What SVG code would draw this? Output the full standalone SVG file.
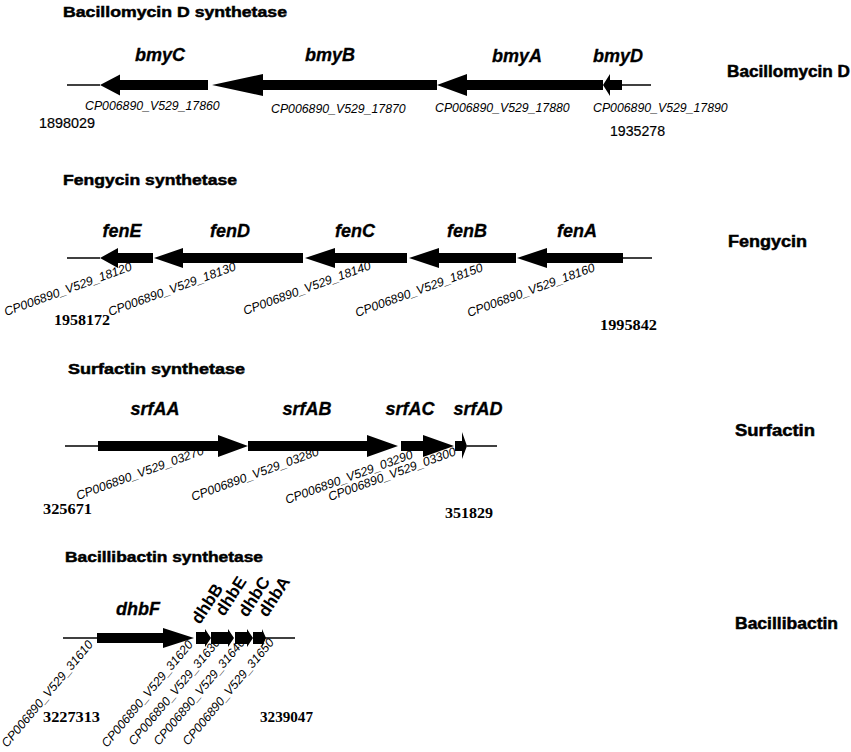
<svg xmlns="http://www.w3.org/2000/svg" width="851" height="752" viewBox="0 0 851 752">
<style>
.title{font-family:"Liberation Sans",Arial,sans-serif;font-weight:bold;font-size:15.5px;fill:#000;stroke:#000;stroke-width:0.5}
.side{font-family:"Liberation Sans",Arial,sans-serif;font-weight:bold;font-size:16px;fill:#000;stroke:#000;stroke-width:0.5}
.gene{font-family:"Liberation Sans",Arial,sans-serif;font-weight:bold;font-style:italic;font-size:18px;fill:#000;text-anchor:middle;stroke:#000;stroke-width:0.3}
.dhb{font-family:"Liberation Sans",Arial,sans-serif;font-weight:bold;font-size:17px;fill:#000}
.locus{font-family:"Liberation Sans",Arial,sans-serif;font-style:italic;font-size:12.3px;fill:#000}
.numS{font-family:"Liberation Sans",Arial,sans-serif;font-size:14px;fill:#000;stroke:#000;stroke-width:0.2}
.numB{font-family:"Liberation Serif","Times New Roman",serif;font-weight:bold;font-size:15px;fill:#000}
.line{stroke:#000;stroke-width:1.5;fill:none}
.arr{fill:#000;stroke:none}
</style>
<rect width="851" height="752" fill="#fff"/>

<g id="bacillomycin">
<text class="title" x="63" y="17" textLength="224" lengthAdjust="spacingAndGlyphs">Bacillomycin D synthetase</text>
<text class="side" x="727" y="77" textLength="123" lengthAdjust="spacingAndGlyphs">Bacillomycin D</text>
<g id="connectors-bmy">
<line class="line" x1="67" y1="85" x2="100" y2="85"/>
<line class="line" x1="622" y1="85" x2="651" y2="85"/>
</g>
<g id="bmyC"><polygon class="arr" points="100,85 120,74.5 120,80 208,80 208,90 120,90 120,95.5"/>
<text class="gene" x="160" y="61">bmyC</text><text class="locus" x="85" y="110">CP006890_V529_17860</text></g>
<g id="bmyB"><polygon class="arr" points="212,85 263,74 263,80 437,80 437,90 263,90 263,96"/>
<text class="gene" x="330" y="61">bmyB</text><text class="locus" x="271" y="113">CP006890_V529_17870</text></g>
<g id="bmyA"><polygon class="arr" points="437,85 467,74 467,80 603,80 603,90 467,90 467,96"/>
<text class="gene" x="517" y="62">bmyA</text><text class="locus" x="435" y="112">CP006890_V529_17880</text></g>
<g id="bmyD"><polygon class="arr" points="603,85 610,74 610,80 622,80 622,90 610,90 610,96"/>
<text class="gene" x="618" y="62">bmyD</text><text class="locus" x="593" y="112">CP006890_V529_17890</text></g>
<text class="numS" x="39" y="128" textLength="56" lengthAdjust="spacingAndGlyphs">1898029</text>
<text class="numS" x="610" y="136" textLength="55" lengthAdjust="spacingAndGlyphs">1935278</text>
</g>

<g id="fengycin">
<text class="title" x="63" y="185" textLength="174" lengthAdjust="spacingAndGlyphs">Fengycin synthetase</text>
<text class="side" x="728" y="247" textLength="79" lengthAdjust="spacingAndGlyphs">Fengycin</text>
<g id="connectors-fen">
<line class="line" x1="67" y1="258" x2="100" y2="258"/>
<line class="line" x1="623" y1="258" x2="652" y2="258"/>
</g>
<g id="fenE"><polygon class="arr" points="100,258 118,248 118,253 153,253 153,263 118,263 118,268"/>
<text class="gene" x="122" y="237">fenE</text><text class="locus" transform="translate(6,316) rotate(-20)">CP006890_V529_18120</text></g>
<g id="fenD"><polygon class="arr" points="154,258 183,248 183,253 303,253 303,263 183,263 183,268"/>
<text class="gene" x="230" y="237">fenD</text><text class="locus" transform="translate(110,316) rotate(-20)">CP006890_V529_18130</text></g>
<g id="fenC"><polygon class="arr" points="305,258 335,248 335,253 407,253 407,263 335,263 335,268"/>
<text class="gene" x="355" y="237">fenC</text><text class="locus" transform="translate(245,315) rotate(-20)">CP006890_V529_18140</text></g>
<g id="fenB"><polygon class="arr" points="409,258 439,248 439,253 516,253 516,263 439,263 439,268"/>
<text class="gene" x="467" y="237">fenB</text><text class="locus" transform="translate(357,317) rotate(-20)">CP006890_V529_18150</text></g>
<g id="fenA"><polygon class="arr" points="517,258 547,248 547,253 623,253 623,263 547,263 547,268"/>
<text class="gene" x="577" y="237">fenA</text><text class="locus" transform="translate(469,317) rotate(-20)">CP006890_V529_18160</text></g>
<text class="numB" x="54" y="325" textLength="56" lengthAdjust="spacingAndGlyphs">1958172</text>
<text class="numB" x="600" y="330" textLength="57" lengthAdjust="spacingAndGlyphs">1995842</text>
</g>

<g id="surfactin">
<text class="title" x="68" y="374" textLength="177" lengthAdjust="spacingAndGlyphs">Surfactin synthetase</text>
<text class="side" x="735" y="436" textLength="80" lengthAdjust="spacingAndGlyphs">Surfactin</text>
<g id="connectors-srf">
<line class="line" x1="65" y1="446" x2="98" y2="446"/>
<line class="line" x1="467" y1="446" x2="497" y2="446"/>
</g>
<g id="srfAA"><polygon class="arr" points="98,441 218,441 218,435 248,446 218,457 218,451 98,451"/>
<text class="gene" x="155" y="415">srfAA</text><text class="locus" transform="translate(78,500) rotate(-20)">CP006890_V529_03270</text></g>
<g id="srfAB"><polygon class="arr" points="248,441 367,441 367,435 398,446 367,457 367,451 248,451"/>
<text class="gene" x="307" y="415">srfAB</text><text class="locus" transform="translate(193,501) rotate(-20)">CP006890_V529_03280</text></g>
<g id="srfAC"><polygon class="arr" points="401,441 423,441 423,435 454,446 423,457 423,451 401,451"/>
<text class="gene" x="410" y="415">srfAC</text><text class="locus" transform="translate(287,504) rotate(-20)">CP006890_V529_03290</text></g>
<g id="srfAD"><polygon class="arr" points="455,441 462,441 462,432 467,446 462,459 462,451 455,451"/>
<text class="gene" x="478" y="415">srfAD</text><text class="locus" transform="translate(330,501) rotate(-20)">CP006890_V529_03300</text></g>
<text class="numB" x="43" y="514" textLength="49" lengthAdjust="spacingAndGlyphs">325671</text>
<text class="numB" x="445" y="518" textLength="48" lengthAdjust="spacingAndGlyphs">351829</text>
</g>

<g id="bacillibactin">
<text class="title" x="65" y="562" textLength="198" lengthAdjust="spacingAndGlyphs">Bacillibactin synthetase</text>
<text class="side" x="735" y="629" textLength="103" lengthAdjust="spacingAndGlyphs">Bacillibactin</text>
<g id="connectors-dhb">
<line class="line" x1="63" y1="638" x2="97" y2="638"/>
<line class="line" x1="265" y1="638" x2="295" y2="638"/>
</g>
<g id="dhbF"><polygon class="arr" points="97,633 163,633 163,628 194,638 163,648 163,643 97,643"/>
<text class="gene" x="138" y="615">dhbF</text><text class="locus" transform="translate(7,748) rotate(-50)">CP006890_V529_31610</text></g>
<g id="dhbB"><polygon class="arr" points="196,632 205,632 205,629 211,638 205,647 205,644 196,644"/>
<text class="dhb" transform="translate(200,625) rotate(-57)">dhbB</text><text class="locus" transform="translate(107,748) rotate(-50)">CP006890_V529_31620</text></g>
<g id="dhbE"><polygon class="arr" points="211,632 228,632 228,629 234,638 228,647 228,644 211,644"/>
<text class="dhb" transform="translate(224,617) rotate(-57)">dhbE</text><text class="locus" transform="translate(134,746) rotate(-50)">CP006890_V529_31630</text></g>
<g id="dhbC"><polygon class="arr" points="235,632 247,632 247,629 253,638 247,647 247,644 235,644"/>
<text class="dhb" transform="translate(247,618) rotate(-57)">dhbC</text><text class="locus" transform="translate(159,746) rotate(-50)">CP006890_V529_31640</text></g>
<g id="dhbA"><polygon class="arr" points="253,632 262,632 262,629 266,638 262,647 262,644 253,644"/>
<text class="dhb" transform="translate(267,618) rotate(-57)">dhbA</text><text class="locus" transform="translate(188,746) rotate(-50)">CP006890_V529_31650</text></g>
<text class="numB" x="43" y="722" textLength="57" lengthAdjust="spacingAndGlyphs">3227313</text>
<text class="numB" x="260" y="722" textLength="53" lengthAdjust="spacingAndGlyphs">3239047</text>
</g>
</svg>
